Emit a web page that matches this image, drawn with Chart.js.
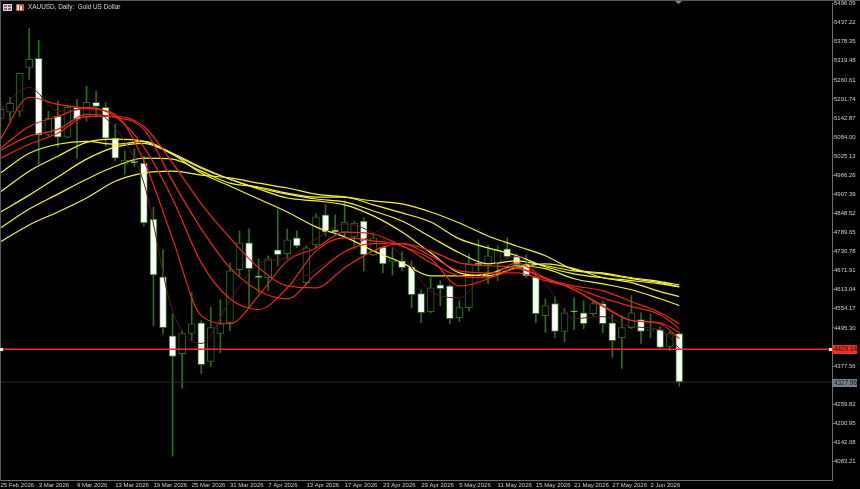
<!DOCTYPE html>
<html>
<head>
<meta charset="utf-8">
<title>XAUUSD, Daily</title>
<script src="https://cdn.jsdelivr.net/npm/chart.js@4"></script>
<style>
  html, body { margin: 0; padding: 0; background: #000; overflow: hidden; }
  canvas { display: block; }
</style>
</head>
<body>
<canvas id="goldChart" width="860" height="489"></canvas>
<script>
/* global Chart */

// axis labels, one date every 4 bars
let dateLabels = ["25 Feb 2026", "3 Mar 2026", "9 Mar 2026", "13 Mar 2026", "19 Mar 2026", "25 Mar 2026", "31 Mar 2026", "7 Apr 2026", "13 Apr 2026", "17 Apr 2026", "23 Apr 2026", "29 Apr 2026", "5 May 2026", "11 May 2026", "15 May 2026", "21 May 2026", "27 May 2026", "2 Jun 2026"];
let priceTicks = [5496.09, 5437.22, 5378.35, 5319.48, 5260.61, 5201.74, 5142.87, 5084.00, 5025.13, 4966.26, 4907.39, 4848.52, 4789.65, 4730.78, 4671.91, 4613.04, 4554.17, 4495.30, 4436.43, 4377.56, 4318.69, 4259.82, 4200.95, 4142.08, 4083.21];

// daily candles
let opens = [5142, 5161, 5164, 5299, 5327, 5090, 5148, 5084, 5176, 5145, 5191, 5176, 5081, 5001, 5010, 5004, 4831, 4653, 4471, 4416, 4478, 4511, 4392, 4478, 4511, 4675, 4758, 4656, 4650, 4736, 4724, 4773, 4635, 4751, 4844, 4798, 4791, 4776, 4825, 4721, 4745, 4699, 4702, 4684, 4601, 4545, 4628, 4625, 4527, 4558, 4696, 4687, 4696, 4739, 4718, 4693, 4653, 4533, 4570, 4484, 4548, 4542, 4539, 4570, 4511, 4465, 4496, 4521, 4487, 4490, 4438, 4478];
let closes = [5170, 5188, 5281, 5324, 5090, 5142, 5084, 5176, 5139, 5191, 5179, 5081, 5019, 5013, 5004, 4819, 4659, 4496, 4407, 4478, 4508, 4382, 4496, 4508, 4671, 4758, 4678, 4650, 4708, 4721, 4767, 4748, 4742, 4838, 4791, 4791, 4822, 4819, 4721, 4773, 4693, 4708, 4681, 4598, 4542, 4619, 4616, 4524, 4558, 4693, 4690, 4718, 4736, 4715, 4690, 4656, 4539, 4564, 4484, 4542, 4545, 4508, 4570, 4508, 4456, 4496, 4542, 4484, 4490, 4435, 4478, 4327.96];
let highs = [5194, 5207, 5281, 5419, 5382, 5164, 5197, 5182, 5201, 5241, 5225, 5191, 5124, 5041, 5047, 5025, 4868, 4736, 4539, 4487, 4604, 4518, 4558, 4582, 4696, 4795, 4801, 4708, 4718, 4862, 4801, 4795, 4748, 4847, 4875, 4844, 4887, 4825, 4835, 4785, 4748, 4742, 4730, 4702, 4613, 4650, 4641, 4628, 4579, 4724, 4767, 4751, 4748, 4773, 4724, 4721, 4665, 4585, 4592, 4555, 4588, 4579, 4579, 4579, 4539, 4533, 4595, 4542, 4539, 4499, 4484, 4481];
let lows = [5117, 5133, 5148, 5262, 5001, 5087, 5053, 5081, 5019, 5133, 5148, 5056, 5010, 4970, 4994, 4810, 4502, 4478, 4099, 4309, 4456, 4355, 4376, 4419, 4487, 4656, 4555, 4604, 4610, 4687, 4708, 4742, 4628, 4742, 4779, 4785, 4779, 4739, 4671, 4718, 4665, 4659, 4671, 4558, 4511, 4542, 4564, 4508, 4515, 4548, 4671, 4631, 4641, 4708, 4684, 4650, 4511, 4481, 4465, 4453, 4490, 4493, 4533, 4481, 4404, 4370, 4493, 4447, 4465, 4432, 4425, 4315];

// moving averages, sampled at these bars
let maBars = [0, 3, 6, 9, 12, 15, 18, 21, 24, 27, 30, 33, 36, 39, 42, 45, 48, 51, 54, 57, 60, 63, 66, 69, 71];
let maFast = [5170, 5238, 5164, 5170, 5111, 4942, 4548, 4447, 4579, 4693, 4711, 4770, 4816, 4788, 4718, 4610, 4588, 4678, 4715, 4631, 4524, 4530, 4499, 4490, 4432];
let red1 = [5078, 5207, 5185, 5173, 5154, 5010, 4770, 4533, 4508, 4595, 4702, 4742, 4791, 4785, 4748, 4708, 4625, 4647, 4696, 4647, 4613, 4561, 4518, 4508, 4462];
let red2 = [5050, 5117, 5148, 5176, 5148, 5053, 4893, 4696, 4585, 4552, 4619, 4733, 4773, 4764, 4748, 4696, 4656, 4650, 4678, 4650, 4613, 4564, 4518, 4511, 4481];
let red3 = [5044, 5087, 5108, 5154, 5145, 5108, 4948, 4801, 4681, 4610, 4585, 4662, 4730, 4755, 4755, 4718, 4671, 4665, 4665, 4641, 4619, 4588, 4561, 4536, 4493];
let red4 = [5019, 5062, 5096, 5148, 5148, 5117, 5004, 4878, 4773, 4681, 4625, 4619, 4681, 4733, 4755, 4733, 4696, 4687, 4681, 4647, 4625, 4610, 4576, 4542, 4508];
let yellow1 = [4973, 5034, 5062, 5071, 5062, 5071, 5031, 4973, 4933, 4893, 4853, 4807, 4776, 4733, 4696, 4656, 4656, 4662, 4687, 4678, 4647, 4631, 4613, 4585, 4564];
let yellow2 = [4915, 4979, 5025, 5068, 5078, 5071, 5034, 4991, 4954, 4924, 4896, 4887, 4875, 4841, 4791, 4727, 4665, 4656, 4681, 4693, 4678, 4650, 4635, 4607, 4592];
let yellow3 = [4853, 4905, 4961, 5016, 5053, 5065, 5031, 4988, 4954, 4927, 4908, 4893, 4884, 4856, 4825, 4776, 4727, 4693, 4702, 4687, 4671, 4662, 4647, 4635, 4622];
let yellow4 = [4804, 4862, 4908, 4954, 4994, 5019, 5016, 4979, 4942, 4930, 4911, 4899, 4899, 4875, 4850, 4822, 4770, 4742, 4718, 4684, 4662, 4650, 4641, 4631, 4622];
let yellow5 = [4761, 4813, 4853, 4896, 4948, 4973, 4979, 4967, 4958, 4942, 4927, 4908, 4899, 4887, 4878, 4853, 4819, 4779, 4748, 4718, 4675, 4665, 4650, 4638, 4628];

// hand drawn objects on the chart
let trendBars = [30.5, 42.4];
let trendPrices = [4631, 4847];
let hLinePrice = 4429.14;
let closePrice = 4327.96;

const BAR_MIN = 0;
const BAR_MAX = 86.98;
const BARS_PER_LABEL = 4;
const GREEN = "#2c6c1c";
const AXIS_GRAY = "#6e6e6e";
const LABEL_FONT = "Liberation Sans";

function maData(values) {
  return values.map((v, i) => ({ x: maBars[i], y: v }));
}

function maLine(values, color, width) {
  return {
    type: "line",
    data: maData(values),
    borderColor: color,
    borderWidth: width,
    pointRadius: 0,
    cubicInterpolationMode: "monotone",
    order: 10,
  };
}

function flatLine(price, color, width) {
  return {
    type: "line",
    data: [{ x: BAR_MIN, y: price }, { x: BAR_MAX, y: price }],
    borderColor: color,
    borderWidth: width,
    pointRadius: 0,
    order: 12,
  };
}

let wicks = highs.map((h, i) => ({ x: i, y: [lows[i], h] }));
let bodies = opens.map((o, i) => ({ x: i, y: [o, closes[i]] }));
let bodyColors = opens.map((o, i) => (closes[i] < o ? "#ffffff" : "#000000"));

// frame, header and the boxed price labels are painted straight on the canvas
const chartDecor = {
  id: "chartDecor",
  afterDraw(chart) {
    let ctx = chart.ctx;
    let y = chart.scales.y;

    ctx.save();
    ctx.fillStyle = "#5a5a5a";
    ctx.fillRect(0, 0, 860, 1);
    ctx.fillRect(0, 0, 1, 481);

    // shift marker
    ctx.fillStyle = "#8a8a8a";
    ctx.beginPath();
    ctx.moveTo(675, 1);
    ctx.lineTo(682, 1);
    ctx.lineTo(678.5, 4);
    ctx.fill();

    // header icons
    ctx.fillStyle = "#d8d8d8";
    ctx.fillRect(3, 4, 9, 7);
    ctx.fillStyle = "#c85050";
    ctx.fillRect(4, 5, 3, 2);
    ctx.fillRect(8, 8, 3, 2);
    ctx.fillStyle = "#5070b0";
    ctx.fillRect(8, 5, 3, 2);
    ctx.fillRect(4, 8, 3, 2);
    ctx.fillStyle = "#e04a3a";
    ctx.fillRect(16, 4, 8, 7);
    ctx.fillStyle = "#ffffff";
    ctx.fillRect(17, 5, 2, 5);
    ctx.fillRect(20, 6, 2, 4);

    ctx.font = "6.4px '" + LABEL_FONT + "'";
    ctx.textBaseline = "middle";
    ctx.fillStyle = "#d8d8d8";
    ctx.fillText("XAUUSD, Daily:  Gold US Dollar", 28, 7.5);

    // line handles
    let lineY = Math.round(y.getPixelForValue(hLinePrice));
    ctx.fillStyle = "#ffffff";
    ctx.fillRect(0, lineY - 1, 3, 3);
    ctx.fillRect(829, lineY - 1, 3, 3);

    // price boxes on the axis
    ctx.fillStyle = "#e8341f";
    ctx.fillRect(832, lineY - 4, 25, 9);
    ctx.fillStyle = "#1a0a08";
    ctx.fillText(hLinePrice.toFixed(2), 834, lineY + 0.5);

    let closeY = Math.round(y.getPixelForValue(closePrice));
    ctx.fillStyle = "#75818f";
    ctx.fillRect(832, closeY - 3, 25, 8);
    ctx.fillStyle = "#14181c";
    ctx.fillText(closePrice.toFixed(2), 834, closeY + 1);
    ctx.restore();
  },
};

let ctx = document.getElementById("goldChart").getContext("2d");
let goldChart = new Chart(ctx, {
  data: {
    datasets: [
      maLine(maFast, "#5e170e", 1),
      maLine(red1, "#e5291b", 1.2),
      maLine(red2, "#e5291b", 1.2),
      maLine(red3, "#e5291b", 1.2),
      maLine(red4, "#e5291b", 1.2),
      maLine(yellow1, "#f2f23c", 1.2),
      maLine(yellow2, "#f2f23c", 1.2),
      maLine(yellow3, "#f2f23c", 1.2),
      maLine(yellow4, "#f2f23c", 1.2),
      maLine(yellow5, "#f2f23c", 1.2),
      {
        type: "line",
        data: trendBars.map((b, i) => ({ x: b, y: trendPrices[i] })),
        borderColor: "#4a1209",
        borderWidth: 1,
        pointRadius: 0,
        order: 11,
      },
      flatLine(hLinePrice, "#f0301f", 1.5),
      flatLine(closePrice, "#2b2b2b", 1),
      {
        type: "bar",
        data: bodies,
        backgroundColor: bodyColors,
        borderColor: GREEN,
        borderWidth: 1,
        borderSkipped: false,
        barThickness: 7,
        grouped: false,
        order: 20,
      },
      {
        type: "bar",
        data: wicks,
        backgroundColor: GREEN,
        borderWidth: 0,
        barThickness: 1,
        grouped: false,
        order: 30,
      },
    ],
  },
  options: {
    responsive: false,
    animation: false,
    events: [],
    layout: { padding: { left: 0.5, top: 2, right: 0, bottom: 0 } },
    plugins: {
      legend: { display: false },
      tooltip: { enabled: false },
      title: { display: false },
    },
    scales: {
      x: {
        type: "linear",
        offset: false,
        min: BAR_MIN,
        max: BAR_MAX,
        grid: { display: false, drawOnChartArea: false, tickLength: 2, offset: false },
        border: { color: AXIS_GRAY },
        afterBuildTicks(scale) {
          scale.ticks = dateLabels.map((d, i) => ({ value: i * BARS_PER_LABEL }));
        },
        afterFit(scale) {
          scale.height = 9;
        },
        ticks: {
          align: "start",
          autoSkip: false,
          maxRotation: 0,
          padding: 0,
          color: "#cfcfcf",
          font: { family: LABEL_FONT, size: 6 },
          callback: (value) => dateLabels[value / BARS_PER_LABEL],
        },
      },
      y: {
        position: "right",
        min: 4025.76,
        max: 5496.09,
        grid: { drawOnChartArea: false, color: AXIS_GRAY, tickLength: 2 },
        border: { color: AXIS_GRAY },
        afterBuildTicks(scale) {
          scale.ticks = priceTicks.map((p) => ({ value: p }));
        },
        afterFit(scale) {
          scale.width = 28;
        },
        ticks: {
          autoSkip: false,
          padding: 0,
          color: "#cfcfcf",
          font: { family: LABEL_FONT, size: 6 },
          callback: (value) => value.toFixed(2),
        },
      },
    },
  },
  plugins: [chartDecor],
});
</script>
</body>
</html>
